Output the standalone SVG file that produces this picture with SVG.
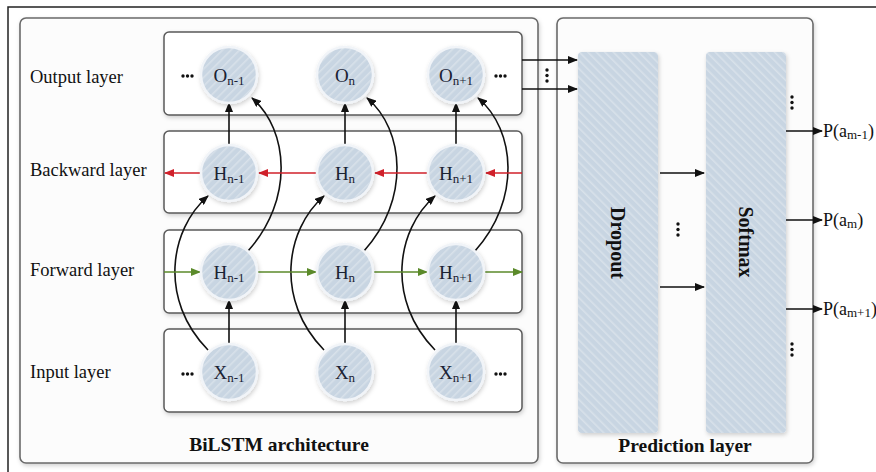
<svg xmlns="http://www.w3.org/2000/svg" width="876" height="472" viewBox="0 0 876 472">
<style>
.frame{fill:#fff;stroke:#222;stroke-width:1.5}
.cont{fill:#fcfcfc;stroke:#6a6a6a;stroke-width:1.6}
.box{fill:#fff;stroke:#5a5a5a;stroke-width:1.5}
.node{fill:url(#hatchN);stroke:#f1f4f8;stroke-width:2.5}
.bar{fill:url(#hatchR)}
.lbl{font-family:"Liberation Serif",serif;font-size:18.5px;fill:#111}
.nt{font-family:"Liberation Serif",serif;font-size:19px;fill:#1a2233;text-anchor:middle}
.sub{font-size:13px}
.ttl{font-family:"Liberation Serif",serif;font-size:19.5px;font-weight:bold;fill:#111;text-anchor:middle}
.bt{font-family:"Liberation Serif",serif;font-size:20px;font-weight:bold;fill:#111;text-anchor:middle}
.pl{font-family:"Liberation Serif",serif;font-size:18px;fill:#111}
.ps{font-size:13px}
.ar{fill:none;stroke:#111;stroke-width:1.6;marker-end:url(#ah)}
.red{fill:none;stroke:#d0202a;stroke-width:1.6;marker-end:url(#ahr)}
.grn{fill:none;stroke:#5b8a2a;stroke-width:1.6;marker-end:url(#ahg)}
.dot{fill:#111}
</style>
<defs>
<pattern id="hatchN" patternUnits="userSpaceOnUse" width="6" height="6" patternTransform="rotate(45)">
<rect width="6" height="6" fill="#c8d5e2"/><rect width="1.6" height="6" fill="#d8e1ea"/>
</pattern>
<pattern id="hatchR" patternUnits="userSpaceOnUse" width="6" height="6" patternTransform="rotate(-45)">
<rect width="6" height="6" fill="#c8d5e2"/><rect width="1.6" height="6" fill="#d8e1ea"/>
</pattern>
<filter id="sh" x="-20%" y="-20%" width="140%" height="140%">
<feDropShadow dx="1" dy="2" stdDeviation="2" flood-color="#000" flood-opacity="0.18"/>
</filter>
<marker id="ah" markerWidth="10" markerHeight="8" refX="9" refY="4" orient="auto" markerUnits="userSpaceOnUse">
<path d="M0,0 L10,4 L0,8 Z" fill="#111"/>
</marker>
<marker id="ahr" markerWidth="10" markerHeight="8" refX="9" refY="4" orient="auto" markerUnits="userSpaceOnUse">
<path d="M0,0 L10,4 L0,8 Z" fill="#d0202a"/>
</marker>
<marker id="ahg" markerWidth="10" markerHeight="8" refX="9" refY="4" orient="auto" markerUnits="userSpaceOnUse">
<path d="M0,0 L10,4 L0,8 Z" fill="#5b8a2a"/>
</marker>
</defs>
<rect width="876" height="472" fill="#fff"/>
<rect class="frame" x="8" y="7" width="880" height="480"/>

<g id="bilstm">
<rect class="cont" x="20" y="18" width="518" height="445" rx="6" filter="url(#sh)"/>
<text class="ttl" x="279" y="451">BiLSTM architecture</text>
</g>
<g id="prediction">
<rect class="cont" x="557" y="18" width="256" height="445" rx="6" filter="url(#sh)"/>
<text class="ttl" x="685" y="452">Prediction layer</text>
</g>

<g id="output-layer">
<rect class="box" x="164" y="32" width="358" height="83" rx="5" filter="url(#sh)"/>
<text class="lbl" x="30" y="83">Output layer</text>
</g>
<g id="backward-layer">
<rect class="box" x="164" y="131" width="358" height="82" rx="5" filter="url(#sh)"/>
<text class="lbl" x="30" y="176">Backward layer</text>
</g>
<g id="forward-layer">
<rect class="box" x="164" y="230" width="358" height="83" rx="5" filter="url(#sh)"/>
<text class="lbl" x="30" y="276">Forward layer</text>
</g>
<g id="input-layer">
<rect class="box" x="164" y="329" width="358" height="83" rx="5" filter="url(#sh)"/>
<text class="lbl" x="30" y="378">Input layer</text>
</g>

<g id="dropout">
<rect class="bar" x="578" y="52" width="80" height="381" rx="4" filter="url(#sh)"/>
<text class="bt" transform="translate(618,243) rotate(90)" dy="7">Dropout</text>
</g>
<g id="softmax">
<rect class="bar" x="706" y="52" width="80" height="381" rx="4" filter="url(#sh)"/>
<text class="bt" transform="translate(746,242) rotate(90)" dy="7">Softmax</text>
</g>

<g id="connectors">
<!-- vertical H_back -> O -->
<line class="ar" x1="229" y1="145" x2="229" y2="103"/>
<line class="ar" x1="345" y1="145" x2="345" y2="103"/>
<line class="ar" x1="456" y1="145" x2="456" y2="103"/>
<!-- vertical X -> H_fwd -->
<line class="ar" x1="229" y1="344" x2="229" y2="300"/>
<line class="ar" x1="345" y1="344" x2="345" y2="300"/>
<line class="ar" x1="456" y1="344" x2="456" y2="300"/>
<!-- curves H_fwd -> O -->
<path class="ar" d="M248,251 C294,200 289,130 252,98"/>
<path class="ar" d="M364,251 C410,200 405,130 367,98"/>
<path class="ar" d="M475,251 C521,200 516,130 478,98"/>
<!-- curves X -> H_back -->
<path class="ar" d="M208,350 C159,300 169,230 208,196"/>
<path class="ar" d="M324,350 C275,300 285,230 324,196"/>
<path class="ar" d="M435,350 C386,300 396,230 435,196"/>
<!-- backward red -->
<line class="red" x1="522" y1="173" x2="486" y2="173"/>
<line class="red" x1="428" y1="173" x2="375" y2="173"/>
<line class="red" x1="317" y1="173" x2="259" y2="173"/>
<line class="red" x1="201" y1="173" x2="165" y2="173"/>
<!-- forward green -->
<line class="grn" x1="164" y1="272" x2="200" y2="272"/>
<line class="grn" x1="257" y1="272" x2="316" y2="272"/>
<line class="grn" x1="373" y1="272" x2="427" y2="272"/>
<line class="grn" x1="484" y1="272" x2="522" y2="272"/>
<!-- to dropout -->
<line class="ar" x1="522" y1="60" x2="577" y2="60"/>
<line class="ar" x1="522" y1="89" x2="577" y2="89"/>
<!-- dropout to softmax -->
<line class="ar" x1="660" y1="173" x2="704" y2="173"/>
<line class="ar" x1="660" y1="287" x2="704" y2="287"/>
<!-- softmax outputs -->
<line class="ar" x1="786" y1="131" x2="822" y2="131"/>
<line class="ar" x1="786" y1="220" x2="822" y2="220"/>
<line class="ar" x1="786" y1="309" x2="822" y2="309"/>
</g>

<g id="O1"><circle class="node" cx="229" cy="75" r="28" filter="url(#sh)"/><text class="nt" x="229" y="82">O<tspan class="sub" dy="3">n-1</tspan></text></g>
<g id="O2"><circle class="node" cx="345" cy="75" r="28" filter="url(#sh)"/><text class="nt" x="345" y="82">O<tspan class="sub" dy="3">n</tspan></text></g>
<g id="O3"><circle class="node" cx="456" cy="75" r="28" filter="url(#sh)"/><text class="nt" x="456" y="82">O<tspan class="sub" dy="3">n+1</tspan></text></g>
<g id="HB1"><circle class="node" cx="229" cy="173" r="28" filter="url(#sh)"/><text class="nt" x="229" y="180">H<tspan class="sub" dy="3">n-1</tspan></text></g>
<g id="HB2"><circle class="node" cx="345" cy="173" r="28" filter="url(#sh)"/><text class="nt" x="345" y="180">H<tspan class="sub" dy="3">n</tspan></text></g>
<g id="HB3"><circle class="node" cx="456" cy="173" r="28" filter="url(#sh)"/><text class="nt" x="456" y="180">H<tspan class="sub" dy="3">n+1</tspan></text></g>
<g id="HF1"><circle class="node" cx="229" cy="272" r="28" filter="url(#sh)"/><text class="nt" x="229" y="279">H<tspan class="sub" dy="3">n-1</tspan></text></g>
<g id="HF2"><circle class="node" cx="345" cy="272" r="28" filter="url(#sh)"/><text class="nt" x="345" y="279">H<tspan class="sub" dy="3">n</tspan></text></g>
<g id="HF3"><circle class="node" cx="456" cy="272" r="28" filter="url(#sh)"/><text class="nt" x="456" y="279">H<tspan class="sub" dy="3">n+1</tspan></text></g>
<g id="X1"><circle class="node" cx="229" cy="372" r="28" filter="url(#sh)"/><text class="nt" x="229" y="379">X<tspan class="sub" dy="3">n-1</tspan></text></g>
<g id="X2"><circle class="node" cx="345" cy="372" r="28" filter="url(#sh)"/><text class="nt" x="345" y="379">X<tspan class="sub" dy="3">n</tspan></text></g>
<g id="X3"><circle class="node" cx="456" cy="372" r="28" filter="url(#sh)"/><text class="nt" x="456" y="379">X<tspan class="sub" dy="3">n+1</tspan></text></g>

<g id="dots">
<circle class="dot" cx="183" cy="76" r="1.7"/><circle class="dot" cx="187.5" cy="76" r="1.7"/><circle class="dot" cx="192" cy="76" r="1.7"/>
<circle class="dot" cx="496" cy="76" r="1.7"/><circle class="dot" cx="500.5" cy="76" r="1.7"/><circle class="dot" cx="505" cy="76" r="1.7"/>
<circle class="dot" cx="183" cy="374" r="1.7"/><circle class="dot" cx="187.5" cy="374" r="1.7"/><circle class="dot" cx="192" cy="374" r="1.7"/>
<circle class="dot" cx="496" cy="374" r="1.7"/><circle class="dot" cx="500.5" cy="374" r="1.7"/><circle class="dot" cx="505" cy="374" r="1.7"/>
<circle class="dot" cx="547" cy="70" r="1.7"/><circle class="dot" cx="547" cy="75.5" r="1.7"/><circle class="dot" cx="547" cy="81" r="1.7"/>
<circle class="dot" cx="678" cy="224" r="1.7"/><circle class="dot" cx="678" cy="229.5" r="1.7"/><circle class="dot" cx="678" cy="235" r="1.7"/>
<circle class="dot" cx="792" cy="97" r="1.7"/><circle class="dot" cx="792" cy="102.5" r="1.7"/><circle class="dot" cx="792" cy="108" r="1.7"/>
<circle class="dot" cx="792" cy="344" r="1.7"/><circle class="dot" cx="792" cy="349.5" r="1.7"/><circle class="dot" cx="792" cy="355" r="1.7"/>
</g>

<g id="outputs">
<text class="pl" x="823" y="137">P(a<tspan class="ps" dy="2">m-1</tspan><tspan dy="-2">)</tspan></text>
<text class="pl" x="823" y="226">P(a<tspan class="ps" dy="2">m</tspan><tspan dy="-2">)</tspan></text>
<text class="pl" x="823" y="315">P(a<tspan class="ps" dy="2">m+1</tspan><tspan dy="-2">)</tspan></text>
</g>
</svg>
